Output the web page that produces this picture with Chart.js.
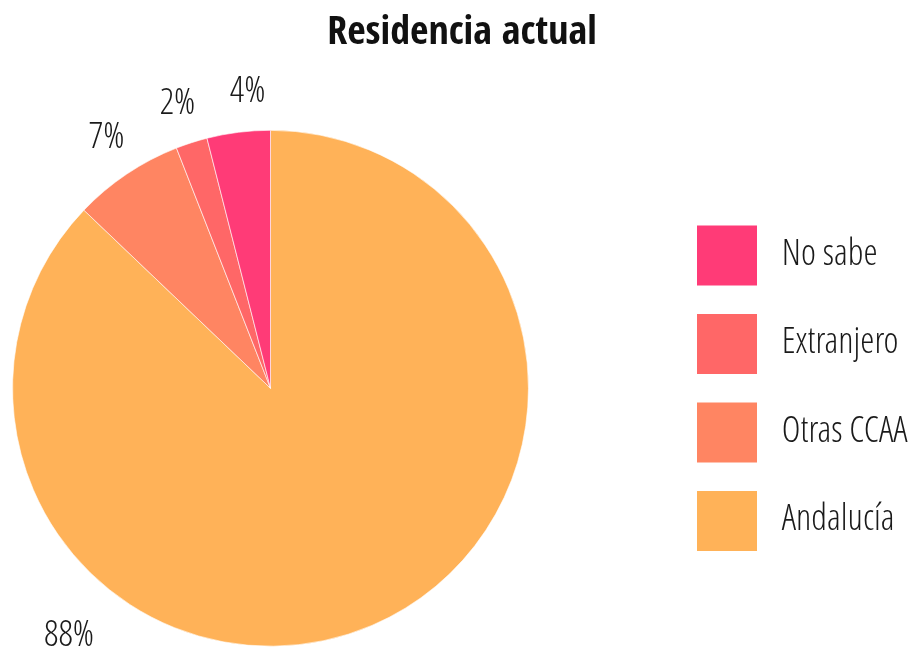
<!DOCTYPE html>
<html>
<head>
<meta charset="utf-8">
<script src="https://cdn.jsdelivr.net/npm/chart.js@4.4.1/dist/chart.umd.min.js"></script>
<style>
  html, body { margin: 0; padding: 0; background: #fff; }
  #wrap { width: 912px; height: 648px; }
</style>
</head>
<body>
<div id="wrap"><canvas id="chart"></canvas></div>
<script>
// Data (clockwise from 12 o'clock)
const categories = ['Andalucía', 'Otras CCAA', 'Extranjero', 'No sabe'];
const percentages = [88, 7, 2, 4];
const sliceColors = ['#FFB258', '#FF8562', '#FF6767', '#FF3B77'];

// Where the % labels sit: degrees clockwise from top, distance from centre
const labelAngles = [219.3, 327, 342, 355.6];
const labelDistances = [318, 301, 301, 299];

const FAMILY_BOLD = "'Open Sans Condensed', 'Open Sans', sans-serif";
const FAMILY_LIGHT = "'Open Sans Condensed Light', 'Open Sans Condensed', 'Open Sans', sans-serif";
const TEXT_COLOR = '#1a1a1a';

// Draws the percentage labels outside the pie
const pctLabels = {
  id: 'pctLabels',
  afterDatasetsDraw(chart) {
    const ctx = chart.ctx;
    const arcs = chart.getDatasetMeta(0).data;
    ctx.save();
    ctx.font = 'condensed 300 36px ' + FAMILY_LIGHT;
    ctx.fillStyle = TEXT_COLOR;
    ctx.textAlign = 'center';
    ctx.textBaseline = 'middle';
    arcs.forEach((arc, i) => {
      const a = labelAngles[i] * Math.PI / 180;
      const x = arc.x + labelDistances[i] * Math.sin(a);
      const y = arc.y - labelDistances[i] * Math.cos(a);
      ctx.fillText(percentages[i] + '%', x, y + 2.5);
    });
    ctx.restore();
  }
};

const ctx = document.getElementById('chart').getContext('2d');
new Chart(ctx, {
  type: 'pie',
  data: {
    labels: categories,
    datasets: [{
      data: percentages,
      backgroundColor: sliceColors,
      borderColor: '#ffffff',
      borderWidth: 0.6
    }]
  },
  options: {
    responsive: true,
    maintainAspectRatio: false,
    animation: false,
    layout: { padding: { left: 12, top: 0, right: 0, bottom: 1.5 } },
    plugins: {
      title: {
        display: true,
        text: 'Residencia actual',
        color: '#111111',
        font: { family: FAMILY_BOLD, size: 40, weight: 'condensed bold' },
        padding: { top: 10, bottom: 72 }
      },
      // empty spacer between the pie and the legend
      subtitle: {
        display: true,
        text: '',
        position: 'right',
        fullSize: false,
        weight: 500,
        font: { size: 1, lineHeight: 0 },
        padding: { top: 0, bottom: 139.5 }
      },
      legend: {
        position: 'right',
        fullSize: false,
        reverse: true,
        maxWidth: 243.5,
        labels: {
          boxWidth: 60,
          boxHeight: 60,
          padding: 28.5,
          color: TEXT_COLOR,
          font: { family: FAMILY_LIGHT, size: 36, weight: 'condensed 300' },
          generateLabels(chart) {
            const items = Chart.overrides.pie.plugins.legend.labels.generateLabels(chart);
            return items.map(item => Object.assign(item, { text: ' ' + item.text, lineWidth: 0 }));
          }
        }
      },
      tooltip: { enabled: false }
    }
  },
  plugins: [pctLabels]
});
</script>
</body>
</html>
